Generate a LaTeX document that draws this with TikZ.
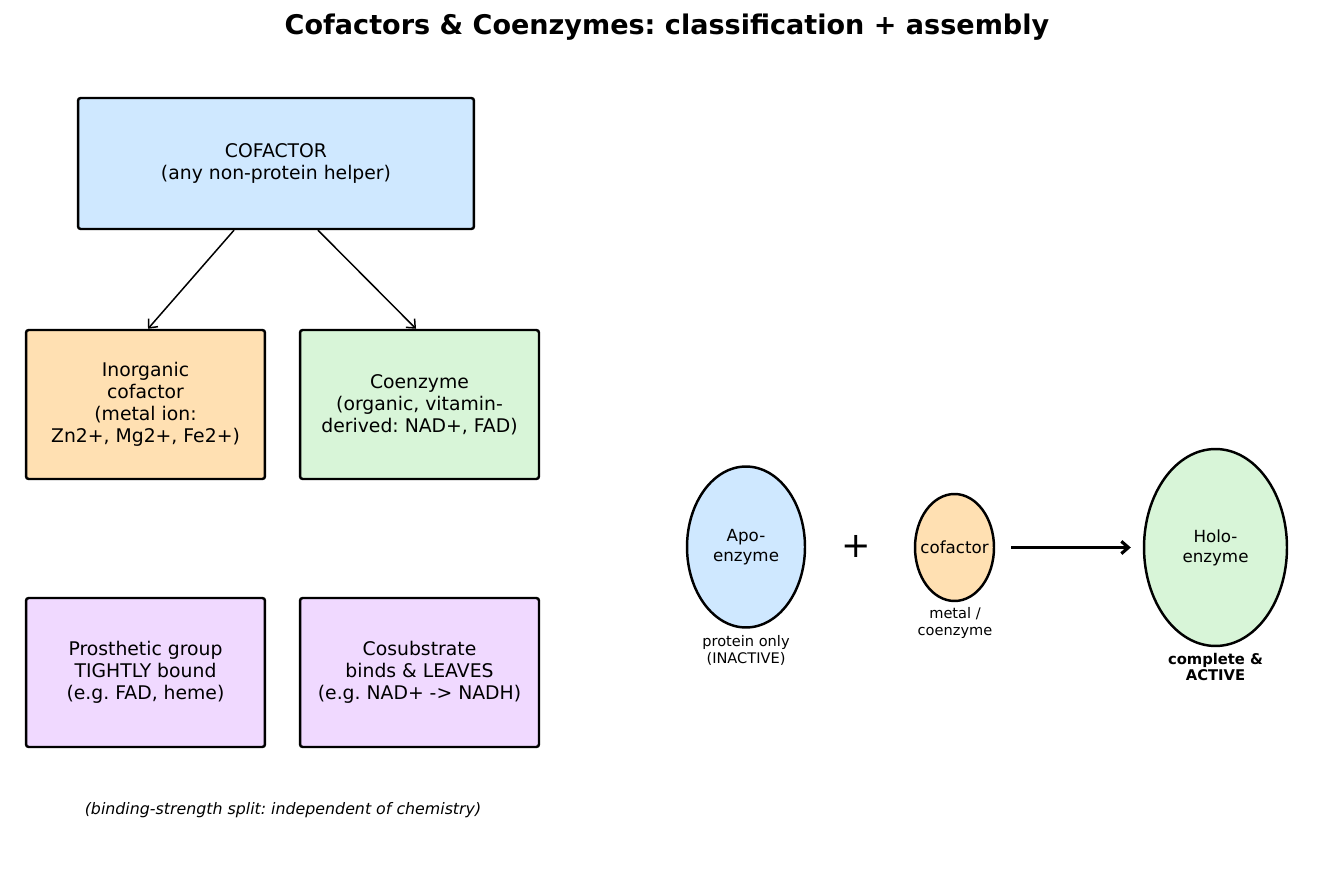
\documentclass[tikz,border=0pt]{standalone}
\usepackage{fontspec}
\setmainfont{DejaVu Sans}
\usepackage{tikz}
\usetikzlibrary{arrows.meta,positioning,calc,shapes.geometric}
\usepackage{xcolor}
\definecolor{apoblue}{RGB}{207,232,255}
\definecolor{metalorange}{RGB}{255,224,178}
\definecolor{organicgreen}{RGB}{216,245,216}
\definecolor{bindpurple}{RGB}{240,217,255}
\frenchspacing

\begin{document}
\begin{tikzpicture}[
    x=0.02cm,y=-0.02cm,
    box/.style={draw,line width=1.4pt,rounded corners=1.5pt,align=center,font=\fontsize{10.7}{12.5}\selectfont},
    blob/.style={draw,ellipse,line width=1.4pt,inner sep=0pt,align=center,font=\fontsize{9.5}{11.3}\selectfont},
    tag/.style={align=center,font=\fontsize{8.3}{9.6}\selectfont},
    >={Straight Barb[length=4pt,width=7pt]}
]
\useasboundingbox (0,0) rectangle (1335,884);
\node[font=\fontsize{15.4}{18}\selectfont\bfseries] (title) at (667,27) {Cofactors \& Coenzymes: classification + assembly};

% classification tree
\node[box,fill=apoblue,minimum width=7.92cm,minimum height=2.62cm] (cof) at (276,163.5) {COFACTOR\\(any non-protein helper)};
\node[box,fill=metalorange,minimum width=4.78cm,minimum height=2.98cm] (inorg) at (145.5,404.5) {Inorganic\\cofactor\\(metal ion:\\Zn2+, Mg2+, Fe2+)};
\node[box,fill=organicgreen,minimum width=4.78cm,minimum height=2.98cm] (coenz) at (419.5,404.5) {Coenzyme\\(organic, vitamin-\\derived: NAD+, FAD)};
\node[box,fill=bindpurple,minimum width=4.78cm,minimum height=2.98cm] (prosth) at (145.5,672.5) {Prosthetic group\\TIGHTLY bound\\(e.g. FAD, heme)};
\node[box,fill=bindpurple,minimum width=4.78cm,minimum height=2.98cm] (cosub) at (419.5,672.5) {Cosubstrate\\binds \& LEAVES\\(e.g. NAD+ -> NADH)};
\node[font=\fontsize{9}{10}\selectfont\itshape] (note) at (283,810) {(binding-strength split: independent of chemistry)};

\draw[->,line width=0.85pt] ($(cof.south)+(-42,0)$) -- ($(inorg.north)+(2.5,0)$);
\draw[->,line width=0.85pt] ($(cof.south)+(42,0)$) -- ($(coenz.north)+(-3.5,0)$);

% assembly
\node[blob,fill=apoblue,minimum width=2.36cm,minimum height=3.22cm] (apo) at (746,547) {Apo-\\enzyme};
\node[font=\fontsize{20}{22}\selectfont] (plus) at (856,546) {+};
\node[blob,fill=metalorange,inner xsep=-4pt,minimum width=1.58cm,minimum height=2.14cm] (cofac) at (954.5,547.5) {cofactor};
\node[blob,fill=organicgreen,minimum width=2.86cm,minimum height=3.94cm] (holo) at (1215.5,547.5) {Holo-\\enzyme};
\node[tag] (apotag) at (746,650) {protein only\\(INACTIVE)};
\node[tag] (coftag) at (955,623) {metal /\\coenzyme};
\node[tag,font=\fontsize{8.4}{9.6}\selectfont\bfseries] (holotag) at (1215.5,667) {complete \&\\ACTIVE};
\draw[->,line width=1.8pt] ($(cofac.east)+(16,0)$) -- ($(holo.west)+(-12,0)$);
\end{tikzpicture}
\end{document}
